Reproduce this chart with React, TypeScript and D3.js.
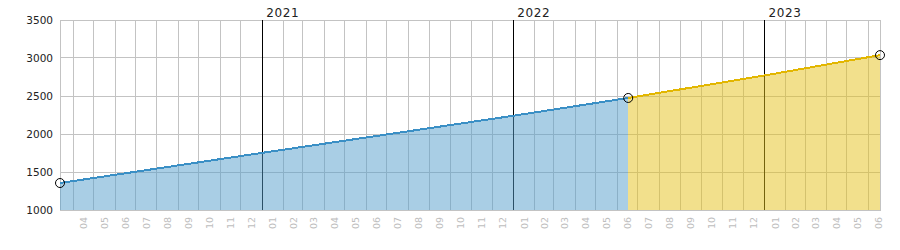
import React from "react";
import * as d3 from "d3";

const seriesADates = ["2020-03-13", "2021-01-01", "2022-01-01", "2022-06-17"];
const seriesAValues = [1355, 1752, 2240, 2474];
const seriesBDates = ["2022-06-17", "2023-01-01", "2023-06-18"];
const seriesBValues = [2474, 2770, 3038];
const markerDates = ["2020-03-13", "2022-06-17", "2023-06-18"];
const markerValues = [1355, 2474, 3038];
const yTicks = [1000, 1500, 2000, 2500, 3000, 3500];
const domainStart = "2020-03-13";
const domainEnd = "2023-06-18";

const W = 900;
const H = 250;
const M = { left: 60, right: 20, top: 20, bottom: 40 };

const parse = (s: string) => {
  const [y, m, d] = s.split("-").map(Number);
  return new Date(y, m - 1, d);
};

export default function App() {
  const x = d3
    .scaleTime()
    .domain([parse(domainStart), parse(domainEnd)])
    .range([M.left, W - M.right]);
  const y = d3.scaleLinear().domain([1000, 3500]).range([H - M.bottom, M.top]);

  const px = (v: number) => Math.floor(v) + 0.5;

  const a = seriesADates.map((d, i) => ({ d: parse(d), v: seriesAValues[i] }));
  const b = seriesBDates.map((d, i) => ({ d: parse(d), v: seriesBValues[i] }));
  const area = d3
    .area<{ d: Date; v: number }>()
    .x((p) => x(p.d))
    .y0(y(1000))
    .y1((p) => y(p.v));
  const line = d3
    .line<{ d: Date; v: number }>()
    .x((p) => x(p.d))
    .y((p) => y(p.v));

  const [x0, x1] = x.domain();
  const months = d3.timeMonth.range(d3.timeMonth.ceil(x0), x1);
  const years = d3.timeYear.range(d3.timeYear.ceil(x0), x1);
  const labelMonths = d3.timeMonth.range(d3.timeMonth.offset(d3.timeMonth.floor(x0), 1), x1);

  const yTop = y(3500);
  const yBot = y(1000);
  const grid = "#c3c3c3";

  return (
    <svg
      width={W}
      height={H}
      style={{ position: "absolute", left: 0, top: 0 }}
      fontFamily="DejaVu Sans"
    >
      <rect x={0} y={0} width={W} height={H} fill="#fff" />
      {yTicks.map((t) => (
        <line
          key={"h" + t}
          x1={M.left}
          x2={W - M.right + 1}
          y1={px(y(t))}
          y2={px(y(t))}
          stroke={grid}
          shapeRendering="crispEdges"
        />
      ))}
      {months
        .filter((m) => m.getMonth() !== 0)
        .map((m) => (
          <line
            key={"v" + m.getTime()}
            x1={px(x(m))}
            x2={px(x(m))}
            y1={yTop}
            y2={yBot}
            stroke={grid}
            shapeRendering="crispEdges"
          />
        ))}
      <line x1={px(M.left)} x2={px(M.left)} y1={yTop} y2={yBot + 1} stroke={grid} shapeRendering="crispEdges" />
      <line x1={px(W - M.right)} x2={px(W - M.right)} y1={yTop} y2={yBot + 1} stroke={grid} shapeRendering="crispEdges" />
      {years.map((yr) => (
        <g key={"y" + yr.getTime()}>
          <line
            x1={px(x(yr))}
            x2={px(x(yr))}
            y1={yTop}
            y2={yBot}
            stroke="#000"
            shapeRendering="crispEdges"
          />
          <text x={x(yr) + 4} y={17} fontSize={12} letterSpacing={0.6} fill="#222">
            {d3.timeFormat("%Y")(yr)}
          </text>
        </g>
      ))}
      <path d={area(a) || ""} fill="#539dcb" fillOpacity={0.5} shapeRendering="crispEdges" />
      <path d={area(b) || ""} fill="#e5c119" fillOpacity={0.5} shapeRendering="crispEdges" />
      <path d={line(a) || ""} fill="none" stroke="#3a8fc5" strokeWidth={2} shapeRendering="crispEdges" />
      <path d={line(b) || ""} fill="none" stroke="#e2b600" strokeWidth={2} shapeRendering="crispEdges" />
      {markerDates.map((d, i) => (
        <circle
          key={"m" + i}
          cx={x(parse(d))}
          cy={y(markerValues[i])}
          r={4.5}
          fill="none"
          stroke="#000"
          strokeWidth={1}
        />
      ))}
      {yTicks.map((t) => (
        <text
          key={"t" + t}
          x={53}
          y={y(t) + 4}
          textAnchor="end"
          fontSize={10.5}
          fill="#222"
        >
          {t}
        </text>
      ))}
      {labelMonths.map((m) => {
        const cx = (x(m) + x(d3.timeMonth.offset(m, 1))) / 2;
        return (
          <text
            key={"l" + m.getTime()}
            transform={`translate(${cx + 3.5},217) rotate(-90)`}
            textAnchor="end"
            fontSize={9.5}
            fill="#bdbdbd"
          >
            {d3.timeFormat("%m")(m)}
          </text>
        );
      })}
    </svg>
  );
}
